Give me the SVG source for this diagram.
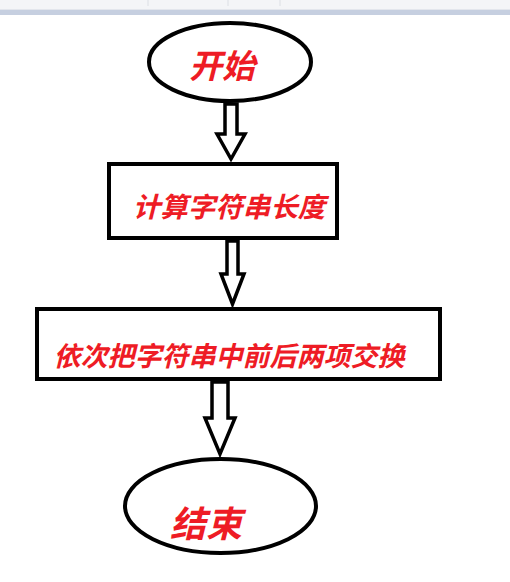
<svg xmlns="http://www.w3.org/2000/svg" width="510" height="582" viewBox="0 0 510 582">
<style>
.shape{fill:#fff;stroke:#000;stroke-width:4}
.arrow{fill:#fff;stroke:#000;stroke-width:3.5;stroke-linejoin:miter}
.lbl{font-family:"Noto Sans CJK SC","Noto Sans",sans-serif;font-weight:bold;font-style:italic;fill:#ee1c25;text-anchor:middle}
</style>
<rect x="0" y="0" width="510" height="582" fill="#fff"/>
<g id="toolbar">
<rect x="0" y="0" width="510" height="9" fill="#f4f5f7"/>
<rect x="0" y="9" width="510" height="1" fill="#e3e6ec"/>
<rect x="0" y="10" width="510" height="5" fill="#c6cfe0"/>
<line x1="148" y1="0" x2="148" y2="6" stroke="#dcdfe4" stroke-width="1"/>
<line x1="228" y1="0" x2="228" y2="6" stroke="#dcdfe4" stroke-width="1"/>
<line x1="280" y1="0" x2="280" y2="6" stroke="#dcdfe4" stroke-width="1"/>
</g>
<g id="connectors">
<polygon class="arrow" points="225,104 237,104 237,134 245,134 231,159 217,134 225,134"/>
<polygon class="arrow" points="227,241 238,241 238,274 244,274 232.5,304 221,274 227,274"/>
<polygon class="arrow" points="212,382 228,382 228,418 235,418 220,454 205,418 212,418"/>
</g>
<g id="start">
<ellipse class="shape" cx="230" cy="62" rx="81" ry="39"/>
<text class="lbl" x="222" y="78" font-size="33">开始</text>
</g>
<g id="calc-length">
<rect class="shape" x="109" y="164" width="228" height="74"/>
<text class="lbl" x="229" y="217" font-size="27.5">计算字符串长度</text>
</g>
<g id="swap">
<rect class="shape" x="37" y="309" width="403" height="70"/>
<text class="lbl" x="229" y="366" font-size="27">依次把字符串中前后两项交换</text>
</g>
<g id="end">
<ellipse class="shape" cx="220.5" cy="506" rx="95.5" ry="47"/>
<text class="lbl" x="206" y="537" font-size="36">结束</text>
</g>
</svg>
